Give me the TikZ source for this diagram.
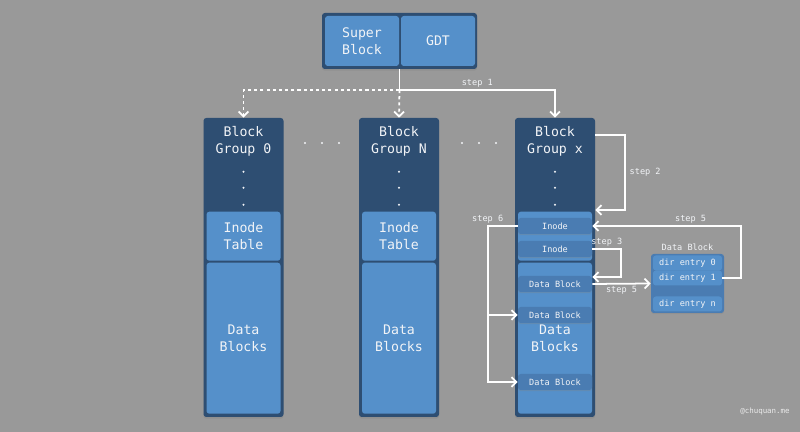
\documentclass[tikz,border=0pt]{standalone}
\usepackage{fontspec}
\setmainfont{DejaVu Sans Mono}
\usetikzlibrary{arrows.meta, positioning, calc, shadows}

\definecolor{bggray}{HTML}{999999}
\definecolor{navy}{HTML}{2E4E72}
\definecolor{lightblue}{HTML}{5590CA}
\definecolor{slotblue}{HTML}{4A7CB2}
\definecolor{ink}{HTML}{F2F4F7}

\begin{document}
\begin{tikzpicture}[
		font=\fontsize{9.4}{12}\selectfont,
		flow/.style={draw=white, line width=1.25pt, -{Straight Barb[length=3.5pt, width=7pt]}},
		dashflow/.style={flow, dash pattern=on 2.2pt off 2.2pt},
		steplabel/.style={text=ink, font=\fontsize{6.1}{7}\selectfont, inner sep=1.5pt}
	]
	\tikzstyle{Box} = [ %shared look of every block
		text=ink,
		align=center,
		rounded corners=2pt,
		inner sep=0pt
	]
	\tikzstyle{GroupBox} = [
		Box,
		fill=navy,
		minimum width=2cm,
		minimum height=7.475cm,
		drop shadow={shadow xshift=0pt, shadow yshift=-1.2pt, opacity=0.35}
	]
	\tikzstyle{PartBox} = [
		Box,
		fill=lightblue,
		minimum width=1.85cm
	]
	\tikzstyle{SlotBox} = [
		Box,
		fill=slotblue,
		minimum width=1.85cm,
		minimum height=0.4cm,
		font=\fontsize{6.1}{7}\selectfont,
		drop shadow={shadow xshift=0pt, shadow yshift=-0.8pt, opacity=0.3}
	]
	\tikzstyle{EntryBox} = [
		Box,
		fill=lightblue,
		minimum width=1.725cm,
		minimum height=0.375cm,
		font=\fontsize{6.1}{7}\selectfont
	]

	\fill[bggray] (0,0) rectangle (20,10.8);
	\useasboundingbox (0,0) rectangle (20,10.8);

	% super block and group descriptors
	\node (top) [Box, fill=navy, minimum width=3.875cm, minimum height=1.4cm,
		drop shadow={shadow xshift=0pt, shadow yshift=-1.2pt, opacity=0.35}] at (9.9875,9.775) {};
	\node (sb) [PartBox, minimum height=1.25cm] at (9.05,9.775) {Super\\Block};
	\node (gdt) [PartBox, minimum height=1.25cm] at (10.95,9.775) {GDT};

	% block groups
	\node (bg0) [GroupBox] at (6.0875,4.1125) {};
	\node (bgN) [GroupBox] at (9.975,4.1125) {};
	\node (bgx) [GroupBox] at (13.875,4.1125) {};
	\foreach \g/\n in {bg0/0, bgN/N, bgx/x} {
		\node (\g-title) [text=ink, align=center] at ([yshift=-0.59cm]\g.north) {Block\\Group \n};
		\foreach \d in {1.35, 1.75, 2.175}
			\fill[ink] ([yshift=-\d cm]\g.north) circle (0.03);
	}
	\node (bg0-inode) [PartBox, minimum height=1.225cm] at ([yshift=-2.9625cm]bg0.north) {Inode\\Table};
	\node (bgN-inode) [PartBox, minimum height=1.225cm] at ([yshift=-2.9625cm]bgN.north) {Inode\\Table};
	\node (bgx-inode) [PartBox, minimum height=1.225cm] at ([yshift=-2.9625cm]bgx.north) {};
	\node (bg0-data) [PartBox, minimum height=3.775cm] at ([yshift=-5.5125cm]bg0.north) {Data\\Blocks};
	\node (bgN-data) [PartBox, minimum height=3.775cm] at ([yshift=-5.5125cm]bgN.north) {Data\\Blocks};
	\node (bgx-data) [PartBox, minimum height=3.775cm] at ([yshift=-5.5125cm]bgx.north) {Data\\Blocks};

	\foreach \x in {7.625, 8.05, 8.475, 11.55, 11.975, 12.4}
		\fill[ink] (\x,7.225) circle (0.03);

	% blocks inside group x
	\node (ino1) [SlotBox] at (13.875,5.15) {Inode};
	\node (ino2) [SlotBox] at (13.875,4.575) {Inode};
	\node (db1) [SlotBox] at (13.875,3.7) {Data Block};
	\node (db2) [SlotBox] at (13.875,2.925) {Data Block};
	\node (db3) [SlotBox] at (13.875,1.25) {Data Block};

	% directory data block
	\node (dblk) [SlotBox, minimum width=1.825cm, minimum height=1.475cm] at (17.1875,3.7125) {};
	\node (dblk-title) [steplabel, above=0.5pt of dblk] {Data Block};
	\node (e0) [EntryBox] at (17.1875,4.225) {dir entry 0};
	\node (e1) [EntryBox] at (17.1875,3.85) {dir entry 1};
	\node (en) [EntryBox] at (17.1875,3.2) {dir entry n};

	% lookup steps
	\coordinate (split) at (9.9875,8.55);
	\draw[white, line width=1.25pt] (top.south) -- (split);
	\draw[flow] (split) -| node[steplabel, pos=0.25, above]{step 1} (bgx.north);
	\draw[dashflow] (split) -| (bg0.north);
	\draw[dashflow] (split) -- (bgN.north);
	\draw[flow] ([yshift=-0.425cm]bgx.north east) -- ++(0.75,0)
		|- node[steplabel, pos=0.25, right, xshift=1pt]{step 2} ([yshift=1.4375cm]bgx.east);
	\draw[flow] (ino2.east) -- node[steplabel, above]{step 3} ++(0.725,0)
		|- ([yshift=0.175cm]db1.east);
	\draw[flow] (db1.east) -- node[steplabel, below]{step 5} (dblk.west);
	\draw[flow] (e1.east) -- ++(0.475,0) |- node[steplabel, pos=0.67, above]{step 5} (ino1.east);
	\draw[flow] (ino1.west) -- node[steplabel, pos=1, above]{step 6} ++(-0.75,0) coordinate (fork)
		|- (db3.west);
	\draw[flow] (fork |- db2.west) -- (db2.west);

	\node (mark) [text=white!80!bggray, font=\fontsize{5.3}{6}\selectfont] at (19.125,0.525) {@chuquan.me};
\end{tikzpicture}
\end{document}
